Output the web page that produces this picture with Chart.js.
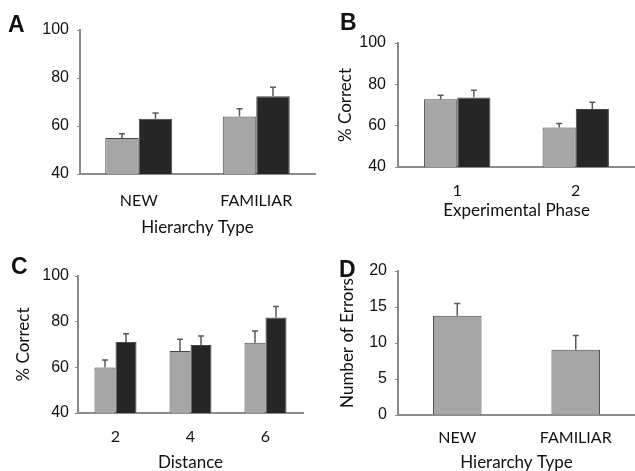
<!DOCTYPE html>
<html lang="en">

<head>
    <meta charset="UTF-8">
    <title>Hierarchy Learning Results</title>
    <script src="https://cdn.jsdelivr.net/npm/chart.js"></script>
    <style>
        html, body {
            margin: 0;
            padding: 0;
            background: #ffffff;
            overflow: hidden;
        }

        .page {
            position: relative;
            width: 635px;
            height: 471px;
        }

        .panel {
            position: absolute;
        }

        .letter {
            position: absolute;
            font-family: "Liberation Sans", Arial, sans-serif;
            font-weight: bold;
            font-size: 23px;
            line-height: 23px;
            color: #111;
        }
    </style>
</head>

<body>
    <div class="page">
        <div class="panel" style="left:0px; top:0px; width:320px; height:250px;"><canvas id="chartA"></canvas></div>
        <div class="panel" style="left:320px; top:0px; width:315px; height:250px;"><canvas id="chartB"></canvas></div>
        <div class="panel" style="left:0px; top:235px; width:320px; height:250px;"><canvas id="chartC"></canvas></div>
        <div class="panel" style="left:320px; top:235px; width:315px; height:250px;"><canvas id="chartD"></canvas></div>

        <div class="letter" style="left:8px; top:13px;">A</div>
        <div class="letter" style="left:340px; top:11px;">B</div>
        <div class="letter" style="left:11px; top:255px;">C</div>
        <div class="letter" style="left:339px; top:258px;">D</div>
    </div>

    <script>
        // categories
        const hierarchyTypes = ['NEW', 'FAMILIAR'];
        const phases = ['1', '2'];
        const distances = ['2', '4', '6'];

        // A: % correct by hierarchy type
        const aGray = [55, 64];
        const aGrayErr = [1.8, 3.2];
        const aBlack = [63, 72.4];
        const aBlackErr = [2.4, 3.7];

        // B: % correct by experimental phase
        const bGray = [72.8, 59.1];
        const bGrayErr = [1.9, 2.0];
        const bBlack = [73.6, 68.1];
        const bBlackErr = [3.5, 3.2];

        // C: % correct by distance
        const cGray = [59.9, 67.2, 70.8];
        const cGrayErr = [3.3, 5.1, 5.1];
        const cBlack = [71.1, 69.8, 81.8];
        const cBlackErr = [3.6, 3.9, 4.8];

        // D: number of errors by hierarchy type
        const dErrors = [13.8, 9.05];
        const dErrorsErr = [1.7, 2.0];

        const GRAY = '#a6a6a6';
        const BLACK = '#262626';
        const AXIS = '#8c8c8c';
        const TEXT = '#111111';

        // draws the upper half of an error bar above each bar
        const errorBars = {
            id: 'errorBars',
            afterDatasetsDraw(chart) {
                const ctx = chart.ctx;
                const yScale = chart.scales.y;
                chart.data.datasets.forEach((ds, i) => {
                    if (!ds.errors) return;
                    const meta = chart.getDatasetMeta(i);
                    meta.data.forEach((bar, j) => {
                        const top = yScale.getPixelForValue(ds.data[j] + ds.errors[j]);
                        ctx.save();
                        ctx.strokeStyle = '#5a5a5a';
                        ctx.lineWidth = 1.5;
                        ctx.beginPath();
                        ctx.moveTo(bar.x, bar.y);
                        ctx.lineTo(bar.x, top);
                        ctx.moveTo(bar.x - 3, top);
                        ctx.lineTo(bar.x + 3, top);
                        ctx.stroke();
                        ctx.restore();
                    });
                });
            }
        };

        function makePanel(id, p) {
            const ctx = document.getElementById(id).getContext('2d');
            return new Chart(ctx, {
                type: 'bar',
                data: {
                    labels: p.labels,
                    datasets: p.datasets.map(d => ({
                        data: d.data,
                        errors: d.errors,
                        backgroundColor: d.color,
                        borderColor: '#474747',
                        borderWidth: 1,
                        borderSkipped: 'bottom',
                        barPercentage: 1.0,
                        categoryPercentage: p.catPct
                    }))
                },
                options: {
                    responsive: true,
                    maintainAspectRatio: false,
                    animation: false,
                    events: [],
                    layout: {
                        padding: { left: 0, right: p.padRight, top: p.padTop, bottom: 0 }
                    },
                    plugins: {
                        legend: { display: false },
                        tooltip: { enabled: false }
                    },
                    scales: {
                        x: {
                            afterFit: s => { s.height = p.xHeight; },
                            grid: { display: false, drawTicks: false },
                            border: { display: true, color: AXIS, width: 2 },
                            ticks: {
                                padding: p.xTickPad,
                                color: TEXT,
                                font: { family: 'Lato', size: 16 }
                            },
                            title: {
                                display: true,
                                text: p.xTitle,
                                color: TEXT,
                                font: { family: 'Lato', size: 17 },
                                padding: { top: 0, bottom: p.xTitlePad }
                            }
                        },
                        y: {
                            min: p.min,
                            max: p.max,
                            afterFit: s => { s.width = p.yWidth; },
                            grid: { drawOnChartArea: false, drawTicks: true, tickLength: 3, color: AXIS },
                            border: { display: true, color: AXIS, width: 2 },
                            ticks: {
                                stepSize: p.step,
                                padding: p.yTickPad,
                                color: TEXT,
                                font: { family: 'Liberation Sans', size: 16 }
                            },
                            title: {
                                display: !!p.yTitle,
                                text: p.yTitle,
                                color: TEXT,
                                font: { family: 'Lato', size: 17 },
                                padding: { top: p.yTitlePad, bottom: 0 }
                            }
                        }
                    }
                },
                plugins: [errorBars]
            });
        }

        makePanel('chartA', {
            labels: hierarchyTypes,
            datasets: [
                { data: aGray, errors: aGrayErr, color: GRAY },
                { data: aBlack, errors: aBlackErr, color: BLACK }
            ],
            catPct: 0.57, min: 40, max: 100, step: 20,
            yWidth: 80, padTop: 30, padRight: 5, xHeight: 76,
            xTickPad: 17, xTitle: 'Hierarchy Type', xTitlePad: 12,
            yTickPad: 8, yTitle: '', yTitlePad: 0
        });

        makePanel('chartB', {
            labels: phases,
            datasets: [
                { data: bGray, errors: bGrayErr, color: GRAY },
                { data: bBlack, errors: bBlackErr, color: BLACK }
            ],
            catPct: 0.56, min: 40, max: 100, step: 20,
            yWidth: 78, padTop: 43, padRight: 0, xHeight: 83,
            xTickPad: 14, xTitle: 'Experimental Phase', xTitlePad: 29,
            yTickPad: 9, yTitle: '% Correct', yTitlePad: 15
        });

        makePanel('chartC', {
            labels: distances,
            datasets: [
                { data: cGray, errors: cGrayErr, color: GRAY },
                { data: cBlack, errors: cBlackErr, color: BLACK }
            ],
            catPct: 0.56, min: 40, max: 100, step: 20,
            yWidth: 78, padTop: 41, padRight: 17, xHeight: 72,
            xTickPad: 14, xTitle: 'Distance', xTitlePad: 12,
            yTickPad: 6, yTitle: '% Correct', yTitlePad: 13
        });

        makePanel('chartD', {
            labels: hierarchyTypes,
            datasets: [
                { data: dErrors, errors: dErrorsErr, color: GRAY }
            ],
            catPct: 0.41, min: 0, max: 20, step: 5,
            yWidth: 78, padTop: 36, padRight: 0, xHeight: 70,
            xTickPad: 13, xTitle: 'Hierarchy Type', xTitlePad: 12,
            yTickPad: 8, yTitle: 'Number of Errors', yTitlePad: 17
        });
    </script>
</body>

</html>
